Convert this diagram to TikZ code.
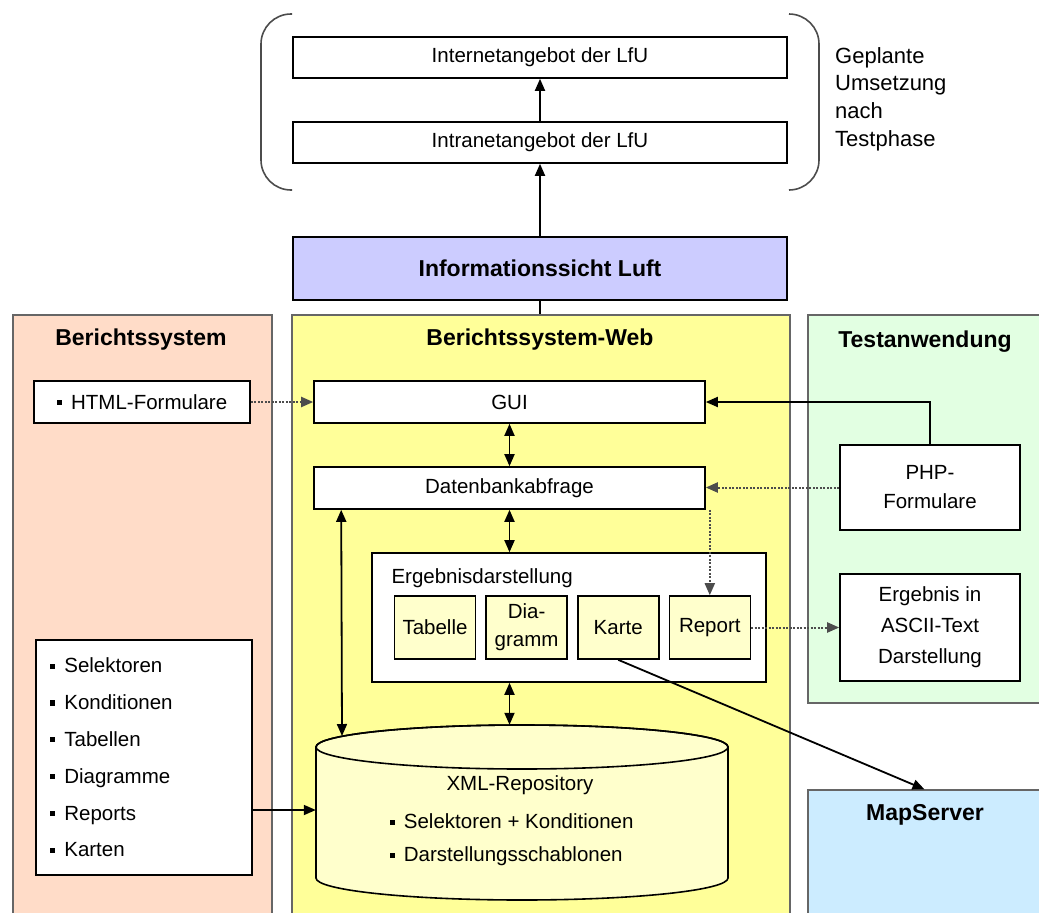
\documentclass[tikz,border=0pt]{standalone}
\usepackage{fontspec}
\setmainfont{Liberation Sans}
\usetikzlibrary{arrows.meta,positioning}
\definecolor{lavbox}{RGB}{204,204,255}
\definecolor{peach}{RGB}{255,220,200}
\definecolor{webyellow}{RGB}{255,255,153}
\definecolor{paleyellow}{RGB}{255,255,204}
\definecolor{testgreen}{RGB}{226,255,226}
\definecolor{mapblue}{RGB}{204,236,255}
\newcommand{\sqb}{\rule[0.2em]{0.25em}{0.25em}\hspace{0.45em}}

\begin{document}
\begin{tikzpicture}[x=1pt,y=-1pt,font=\fontsize{20.5}{24}\selectfont,node distance=9pt,
    >={Triangle[length=12pt,width=10pt]},
    box/.style={draw,line width=1.6pt,fill=white,inner sep=0pt,align=center},
    panel/.style={draw=black!60,line width=1.3pt,inner sep=0pt},
    ptitle/.style={font=\fontsize{23}{27}\selectfont\bfseries},
    part/.style={box,fill=paleyellow,minimum width=81pt,minimum height=63pt},
    arr/.style={->,line width=1.8pt},
    dbl/.style={<->,line width=1.8pt},
    dotarr/.style={->,line width=2pt,dash pattern=on 2pt off 1.5pt,black!70}]
  \useasboundingbox (0,0) rectangle (1039,913);
  % panels
  \node[panel,fill=peach,minimum width=259pt,minimum height=600pt] (bs) at (142.5,615) {};
  \node[panel,fill=webyellow,minimum width=498pt,minimum height=600pt] (web) at (541,615) {};
  \node[panel,fill=testgreen,minimum width=233pt,minimum height=388pt] (test) at (924.5,509) {};
  \node[panel,fill=mapblue,minimum width=233pt,minimum height=125pt] (map) at (924.5,852.5) {};
  \node[ptitle] (bst) at (141,340) {Berichtssystem};
  \node[ptitle] (webt) at (540,340) {Berichtssystem-Web};
  \node[ptitle] (testt) at (925,342) {Testanwendung};
  \node[ptitle] (mapt) at (925,815) {MapServer};

  % planned part on top
  \node[box,minimum width=494pt,minimum height=41pt] (inet) at (540,57.5) {Internetangebot der LfU};
  \node[box,minimum width=494pt,minimum height=41pt] (intra) at (540,142.5) {Intranetangebot der LfU};
  \node[box,fill=lavbox,minimum width=494pt,minimum height=63pt,font=\fontsize{23}{27}\selectfont\bfseries] (info) at (540,268.5) {Informationssicht Luft};
  \draw[line width=1.6pt,black!70,rounded corners=30pt] (292,14) -- (261,14) -- (261,190) -- (292,190);
  \draw[line width=1.6pt,black!70,rounded corners=30pt] (789,14) -- (819,14) -- (819,190) -- (789,190);
  \node[align=left,anchor=north west,inner sep=0pt,font=\fontsize{22}{27.7}\selectfont] (plan) at (835,47) {Geplante\\Umsetzung\\nach\\Testphase};
  \draw[arr] (intra) -- (inet);
  \draw[arr] (info) -- (intra);
  \draw[line width=1.8pt] (info.south) -- (info.south |- web.north);

  % Berichtssystem-Web
  \node[box,minimum width=391pt,minimum height=42pt] (gui) at (509.5,402) {GUI};
  \node[box,minimum width=391pt,minimum height=42pt] (db) at (509.5,488) {Datenbankabfrage};
  \node[box,minimum width=394pt,minimum height=129pt] (erg) at (569,617.5) {};
  \node[anchor=west] (ergl) at (388,578) {Ergebnisdarstellung};
  \node[part] (tab) at (435,627.5) {Tabelle};
  \node[part,right=of tab,font=\fontsize{20.5}{28}\selectfont] (dia) {Dia-\\gramm};
  \node[part,right=of dia] (karte) {Karte};
  \node[part,right=of karte] (report) {Report};

  % repository
  \node[minimum width=412pt,minimum height=175pt,inner sep=0pt] (repo) at (522,812.5) {};
  \draw[line width=1.6pt,fill=paleyellow] (316,747) -- (316,878)
    arc[start angle=180,end angle=360,x radius=206pt,y radius=22pt] -- (728,747)
    arc[start angle=0,end angle=180,x radius=206pt,y radius=22pt] -- cycle;
  \draw[line width=1.6pt] (522,747) ellipse[x radius=206pt,y radius=22pt];
  \node (xmlt) at (520,785) {XML-Repository};
  \node[align=left,anchor=west,font=\fontsize{20.5}{33}\selectfont] (xmlb) at (386,840) {\sqb Selektoren + Konditionen\\\sqb Darstellungsschablonen};
  \coordinate (repol) at (342,736);

  % Berichtssystem
  \node[box,minimum width=216pt,minimum height=42pt] (html) at (142,402) {\sqb HTML-Formulare};
  \node[box,minimum width=216pt,minimum height=235pt,align=left,text width=188pt,
        font=\fontsize{20.5}{36.8}\selectfont] (lst) at (144,757.5)
    {\sqb Selektoren\\\sqb Konditionen\\\sqb Tabellen\\\sqb Diagramme\\\sqb Reports\\\sqb Karten};
  \coordinate (lstr) at (252,810);

  % Testanwendung
  \node[box,minimum width=180pt,minimum height=85pt,font=\fontsize{20.5}{29}\selectfont] (php) at (930,487.5) {PHP-\\Formulare};
  \node[box,minimum width=180pt,minimum height=107pt,font=\fontsize{20.5}{31}\selectfont] (ascii) at (930,627.5) {Ergebnis in\\ASCII-Text\\Darstellung};

  % connectors
  \draw[dotarr] (html) -- (gui);
  \draw[dbl] (gui) -- (db);
  \draw[dbl] (db.south) -- (db.south |- erg.north);
  \draw[dbl] (db.south |- erg.south) -- (db.south |- repo.north);
  \draw[dbl] ([xshift=28pt]db.south west) -- (repol);
  \draw[arr] (lstr) -- (lstr -| repo.west);
  \draw[arr] (php.north) |- (gui.east);
  \draw[dotarr] (php.west) -- (php.west -| db.east);
  \draw[dotarr] (report.north |- db.south) -- (report.north);
  \draw[dotarr] (report) -- (ascii);
  \draw[arr] (karte.south) -- (map.north);
\end{tikzpicture}
\end{document}
